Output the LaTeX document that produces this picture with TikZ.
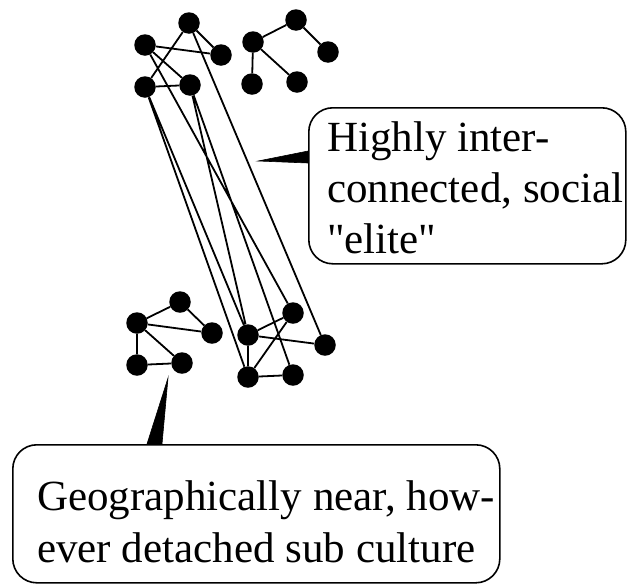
\documentclass[tikz,border=0pt]{standalone}
\usepackage{fontspec}
\setmainfont{Liberation Serif}
\newfontfamily\plainserif{Liberation Serif}
\begin{document}
\begin{tikzpicture}[x=1pt,y=-1pt,
  dot/.style={circle,fill=black,inner sep=0pt,minimum size=21.5pt},
  edge/.style={line width=1.8pt},
  calloutbox/.style={draw=black,line width=1.6pt,rounded corners=24pt,fill=white},
  lbl/.style={anchor=base west,inner sep=0pt,font=\plainserif\fontsize{43}{51}\selectfont},
  wedge/.style={fill=black,draw=black,line width=0.6pt,line join=miter}]
\useasboundingbox (0,0) rectangle (628,584);
% top-left cluster
\node[dot] (A) at (145,45) {};
\node[dot] (B) at (189,23) {};
\node[dot] (C) at (221,55) {};
\node[dot] (D) at (145,87) {};
\node[dot] (E) at (190,85) {};
% top-right cluster
\node[dot] (F) at (253,42) {};
\node[dot] (G) at (296,20) {};
\node[dot] (H) at (328,52) {};
\node[dot] (I) at (252,84) {};
\node[dot] (J) at (297,82) {};
% bottom-left cluster
\node[dot] (K) at (180,302) {};
\node[dot] (L) at (137,323) {};
\node[dot] (M) at (212,333) {};
\node[dot] (N) at (137,365) {};
\node[dot] (O) at (182,363) {};
% bottom-right cluster
\node[dot] (P) at (293,313) {};
\node[dot] (Q) at (248,335) {};
\node[dot] (R) at (325,345) {};
\node[dot] (S) at (248,377) {};
\node[dot] (T) at (293,375) {};
% edges
\draw[edge] (A) -- (C) (A) -- (E) (B) -- (D) (B) -- (C) (D) -- (E);
\draw[edge] (F) -- (G) (G) -- (H) (F) -- (I) (F) -- (J);
\draw[edge] (L) -- (K) (K) -- (M) (L) -- (M) (L) -- (N) (L) -- (O) (N) -- (O);
\draw[edge] (Q) -- (P) (Q) -- (R) (Q) -- (S) (S) -- (P) (S) -- (T);
\draw[edge] (D) -- (S) (D) -- (Q) (E) -- (Q) (E) -- (T) (A) -- (P) (B) -- (R);
% callout 1
\node[calloutbox,minimum width=317pt,minimum height=156pt,anchor=north west] (box1) at (308,107) {};
\coordinate (tip1) at (258,161);
\fill[wedge] (tip1) -- (box1.west |- 0,151) -- (box1.west |- 0,163) -- cycle;
\node[lbl] (t1a) at (327,151) {Highly inter-};
\node[lbl] (t1b) at (327,202) {connected, social};
\node[lbl] (t1c) at (327,253) {"elite"};
% callout 2
\node[calloutbox,minimum width=487pt,minimum height=138pt,anchor=north west] (box2) at (12,444) {};
\coordinate (tip2) at (168,378);
\fill[wedge] (tip2) -- (box2.north west -| 147,0) -- (box2.north west -| 162,0) -- cycle;
\node[lbl] (t2a) at (37,510) {Geographically near, how-};
\node[lbl] (t2b) at (37,562) {ever detached sub culture};
\end{tikzpicture}
\end{document}
